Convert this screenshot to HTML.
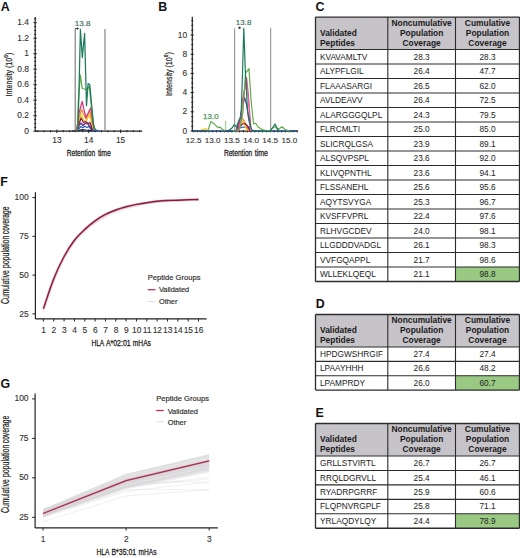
<!DOCTYPE html>
<html><head><meta charset="utf-8"><style>
html,body{margin:0;padding:0;background:#fff;overflow:hidden;}
svg{display:block;font-family:"Liberation Sans", sans-serif;}
</style></head><body>
<svg width="520" height="558" viewBox="0 0 520 558">
<rect x="0" y="0" width="520" height="558" fill="#fff"/>
<text x="0.70" y="10.60" font-size="12.4" text-anchor="start" font-weight="bold" fill="#111" >A</text>
<text x="158.30" y="10.90" font-size="12.4" text-anchor="start" font-weight="bold" fill="#111" >B</text>
<text x="315.60" y="10.90" font-size="12.4" text-anchor="start" font-weight="bold" fill="#111" >C</text>
<text x="315.80" y="307.60" font-size="12.4" text-anchor="start" font-weight="bold" fill="#111" >D</text>
<text x="315.60" y="416.70" font-size="12.4" text-anchor="start" font-weight="bold" fill="#111" >E</text>
<text x="0.30" y="185.50" font-size="12.4" text-anchor="start" font-weight="bold" fill="#111" >F</text>
<text x="0.50" y="387.50" font-size="12.4" text-anchor="start" font-weight="bold" fill="#111" >G</text>
<rect x="315.5" y="17.1" width="204.0" height="32.4" fill="#c6c4c9"/>
<rect x="455.5" y="267.0" width="64.0" height="14.5" fill="#99c982"/>
<line x1="315.50" y1="17.10" x2="519.50" y2="17.10" stroke="#2c2c2c" stroke-width="1.3" />
<line x1="315.50" y1="49.50" x2="519.50" y2="49.50" stroke="#2c2c2c" stroke-width="1.2" />
<line x1="315.50" y1="64.00" x2="519.50" y2="64.00" stroke="#2c2c2c" stroke-width="1.1" />
<line x1="315.50" y1="78.50" x2="519.50" y2="78.50" stroke="#2c2c2c" stroke-width="1.1" />
<line x1="315.50" y1="93.00" x2="519.50" y2="93.00" stroke="#2c2c2c" stroke-width="1.1" />
<line x1="315.50" y1="107.50" x2="519.50" y2="107.50" stroke="#2c2c2c" stroke-width="1.1" />
<line x1="315.50" y1="122.00" x2="519.50" y2="122.00" stroke="#2c2c2c" stroke-width="1.1" />
<line x1="315.50" y1="136.50" x2="519.50" y2="136.50" stroke="#2c2c2c" stroke-width="1.1" />
<line x1="315.50" y1="151.00" x2="519.50" y2="151.00" stroke="#2c2c2c" stroke-width="1.1" />
<line x1="315.50" y1="165.50" x2="519.50" y2="165.50" stroke="#2c2c2c" stroke-width="1.1" />
<line x1="315.50" y1="180.00" x2="519.50" y2="180.00" stroke="#2c2c2c" stroke-width="1.1" />
<line x1="315.50" y1="194.50" x2="519.50" y2="194.50" stroke="#2c2c2c" stroke-width="1.1" />
<line x1="315.50" y1="209.00" x2="519.50" y2="209.00" stroke="#2c2c2c" stroke-width="1.1" />
<line x1="315.50" y1="223.50" x2="519.50" y2="223.50" stroke="#2c2c2c" stroke-width="1.1" />
<line x1="315.50" y1="238.00" x2="519.50" y2="238.00" stroke="#2c2c2c" stroke-width="1.1" />
<line x1="315.50" y1="252.50" x2="519.50" y2="252.50" stroke="#2c2c2c" stroke-width="1.1" />
<line x1="315.50" y1="267.00" x2="519.50" y2="267.00" stroke="#2c2c2c" stroke-width="1.1" />
<line x1="315.50" y1="281.50" x2="519.50" y2="281.50" stroke="#2c2c2c" stroke-width="1.3" />
<line x1="315.50" y1="17.10" x2="315.50" y2="281.50" stroke="#2c2c2c" stroke-width="1.3" />
<line x1="387.80" y1="17.10" x2="387.80" y2="281.50" stroke="#2c2c2c" stroke-width="1.1" />
<line x1="455.50" y1="17.10" x2="455.50" y2="281.50" stroke="#2c2c2c" stroke-width="1.1" />
<line x1="519.50" y1="17.10" x2="519.50" y2="281.50" stroke="#2c2c2c" stroke-width="1.3" />
<text x="320.00" y="35.60" font-size="8.75" text-anchor="start" font-weight="bold" fill="#1a1a1a" textLength="36.88" lengthAdjust="spacingAndGlyphs">Validated</text>
<text x="320.00" y="45.70" font-size="8.75" text-anchor="start" font-weight="bold" fill="#1a1a1a" textLength="35.01" lengthAdjust="spacingAndGlyphs">Peptides</text>
<text x="421.65" y="25.70" font-size="8.75" text-anchor="middle" font-weight="bold" fill="#1a1a1a" textLength="60.21" lengthAdjust="spacingAndGlyphs">Noncumulative</text>
<text x="421.65" y="35.70" font-size="8.75" text-anchor="middle" font-weight="bold" fill="#1a1a1a" textLength="43.39" lengthAdjust="spacingAndGlyphs">Population</text>
<text x="421.65" y="45.70" font-size="8.75" text-anchor="middle" font-weight="bold" fill="#1a1a1a" textLength="38.28" lengthAdjust="spacingAndGlyphs">Coverage</text>
<text x="487.50" y="25.70" font-size="8.75" text-anchor="middle" font-weight="bold" fill="#1a1a1a" textLength="45.27" lengthAdjust="spacingAndGlyphs">Cumulative</text>
<text x="487.50" y="35.70" font-size="8.75" text-anchor="middle" font-weight="bold" fill="#1a1a1a" textLength="43.39" lengthAdjust="spacingAndGlyphs">Population</text>
<text x="487.50" y="45.70" font-size="8.75" text-anchor="middle" font-weight="bold" fill="#1a1a1a" textLength="38.28" lengthAdjust="spacingAndGlyphs">Coverage</text>
<text x="320.00" y="59.60" font-size="8.3" text-anchor="start" font-weight="normal" fill="#222" >KVAVAMLTV</text>
<text x="421.65" y="59.60" font-size="8.3" text-anchor="middle" font-weight="normal" fill="#222" >28.3</text>
<text x="487.50" y="59.60" font-size="8.3" text-anchor="middle" font-weight="normal" fill="#222" >28.3</text>
<text x="320.00" y="74.10" font-size="8.3" text-anchor="start" font-weight="normal" fill="#222" >ALYPFLGIL</text>
<text x="421.65" y="74.10" font-size="8.3" text-anchor="middle" font-weight="normal" fill="#222" >26.4</text>
<text x="487.50" y="74.10" font-size="8.3" text-anchor="middle" font-weight="normal" fill="#222" >47.7</text>
<text x="320.00" y="88.60" font-size="8.3" text-anchor="start" font-weight="normal" fill="#222" >FLAAASARGI</text>
<text x="421.65" y="88.60" font-size="8.3" text-anchor="middle" font-weight="normal" fill="#222" >26.5</text>
<text x="487.50" y="88.60" font-size="8.3" text-anchor="middle" font-weight="normal" fill="#222" >62.0</text>
<text x="320.00" y="103.10" font-size="8.3" text-anchor="start" font-weight="normal" fill="#222" >AVLDEAVV</text>
<text x="421.65" y="103.10" font-size="8.3" text-anchor="middle" font-weight="normal" fill="#222" >26.4</text>
<text x="487.50" y="103.10" font-size="8.3" text-anchor="middle" font-weight="normal" fill="#222" >72.5</text>
<text x="320.00" y="117.60" font-size="8.3" text-anchor="start" font-weight="normal" fill="#222" >ALARGGGQLPL</text>
<text x="421.65" y="117.60" font-size="8.3" text-anchor="middle" font-weight="normal" fill="#222" >24.3</text>
<text x="487.50" y="117.60" font-size="8.3" text-anchor="middle" font-weight="normal" fill="#222" >79.5</text>
<text x="320.00" y="132.10" font-size="8.3" text-anchor="start" font-weight="normal" fill="#222" >FLRCMLTI</text>
<text x="421.65" y="132.10" font-size="8.3" text-anchor="middle" font-weight="normal" fill="#222" >25.0</text>
<text x="487.50" y="132.10" font-size="8.3" text-anchor="middle" font-weight="normal" fill="#222" >85.0</text>
<text x="320.00" y="146.60" font-size="8.3" text-anchor="start" font-weight="normal" fill="#222" >SLICRQLGSA</text>
<text x="421.65" y="146.60" font-size="8.3" text-anchor="middle" font-weight="normal" fill="#222" >23.9</text>
<text x="487.50" y="146.60" font-size="8.3" text-anchor="middle" font-weight="normal" fill="#222" >89.1</text>
<text x="320.00" y="161.10" font-size="8.3" text-anchor="start" font-weight="normal" fill="#222" >ALSQVPSPL</text>
<text x="421.65" y="161.10" font-size="8.3" text-anchor="middle" font-weight="normal" fill="#222" >23.6</text>
<text x="487.50" y="161.10" font-size="8.3" text-anchor="middle" font-weight="normal" fill="#222" >92.0</text>
<text x="320.00" y="175.60" font-size="8.3" text-anchor="start" font-weight="normal" fill="#222" >KLIVQPNTHL</text>
<text x="421.65" y="175.60" font-size="8.3" text-anchor="middle" font-weight="normal" fill="#222" >23.6</text>
<text x="487.50" y="175.60" font-size="8.3" text-anchor="middle" font-weight="normal" fill="#222" >94.1</text>
<text x="320.00" y="190.10" font-size="8.3" text-anchor="start" font-weight="normal" fill="#222" >FLSSANEHL</text>
<text x="421.65" y="190.10" font-size="8.3" text-anchor="middle" font-weight="normal" fill="#222" >25.6</text>
<text x="487.50" y="190.10" font-size="8.3" text-anchor="middle" font-weight="normal" fill="#222" >95.6</text>
<text x="320.00" y="204.60" font-size="8.3" text-anchor="start" font-weight="normal" fill="#222" >AQYTSVYGA</text>
<text x="421.65" y="204.60" font-size="8.3" text-anchor="middle" font-weight="normal" fill="#222" >25.3</text>
<text x="487.50" y="204.60" font-size="8.3" text-anchor="middle" font-weight="normal" fill="#222" >96.7</text>
<text x="320.00" y="219.10" font-size="8.3" text-anchor="start" font-weight="normal" fill="#222" >KVSFFVPRL</text>
<text x="421.65" y="219.10" font-size="8.3" text-anchor="middle" font-weight="normal" fill="#222" >22.4</text>
<text x="487.50" y="219.10" font-size="8.3" text-anchor="middle" font-weight="normal" fill="#222" >97.6</text>
<text x="320.00" y="233.60" font-size="8.3" text-anchor="start" font-weight="normal" fill="#222" >RLHVGCDEV</text>
<text x="421.65" y="233.60" font-size="8.3" text-anchor="middle" font-weight="normal" fill="#222" >24.0</text>
<text x="487.50" y="233.60" font-size="8.3" text-anchor="middle" font-weight="normal" fill="#222" >98.1</text>
<text x="320.00" y="248.10" font-size="8.3" text-anchor="start" font-weight="normal" fill="#222" >LLGDDDVADGL</text>
<text x="421.65" y="248.10" font-size="8.3" text-anchor="middle" font-weight="normal" fill="#222" >26.1</text>
<text x="487.50" y="248.10" font-size="8.3" text-anchor="middle" font-weight="normal" fill="#222" >98.3</text>
<text x="320.00" y="262.60" font-size="8.3" text-anchor="start" font-weight="normal" fill="#222" >VVFGQAPPL</text>
<text x="421.65" y="262.60" font-size="8.3" text-anchor="middle" font-weight="normal" fill="#222" >21.7</text>
<text x="487.50" y="262.60" font-size="8.3" text-anchor="middle" font-weight="normal" fill="#222" >98.6</text>
<text x="320.00" y="277.10" font-size="8.3" text-anchor="start" font-weight="normal" fill="#222" >WLLEKLQEQL</text>
<text x="421.65" y="277.10" font-size="8.3" text-anchor="middle" font-weight="normal" fill="#222" >21.1</text>
<text x="487.50" y="277.10" font-size="8.3" text-anchor="middle" font-weight="normal" fill="#222" >98.8</text>
<rect x="315.5" y="314.5" width="204.0" height="32.5" fill="#c6c4c9"/>
<rect x="455.5" y="375.7" width="64.0" height="14.35" fill="#99c982"/>
<line x1="315.50" y1="314.50" x2="519.50" y2="314.50" stroke="#2c2c2c" stroke-width="1.3" />
<line x1="315.50" y1="347.00" x2="519.50" y2="347.00" stroke="#2c2c2c" stroke-width="1.2" />
<line x1="315.50" y1="361.35" x2="519.50" y2="361.35" stroke="#2c2c2c" stroke-width="1.1" />
<line x1="315.50" y1="375.70" x2="519.50" y2="375.70" stroke="#2c2c2c" stroke-width="1.1" />
<line x1="315.50" y1="390.05" x2="519.50" y2="390.05" stroke="#2c2c2c" stroke-width="1.3" />
<line x1="315.50" y1="314.50" x2="315.50" y2="390.05" stroke="#2c2c2c" stroke-width="1.3" />
<line x1="387.80" y1="314.50" x2="387.80" y2="390.05" stroke="#2c2c2c" stroke-width="1.1" />
<line x1="455.50" y1="314.50" x2="455.50" y2="390.05" stroke="#2c2c2c" stroke-width="1.1" />
<line x1="519.50" y1="314.50" x2="519.50" y2="390.05" stroke="#2c2c2c" stroke-width="1.3" />
<text x="320.00" y="333.00" font-size="8.75" text-anchor="start" font-weight="bold" fill="#1a1a1a" textLength="36.88" lengthAdjust="spacingAndGlyphs">Validated</text>
<text x="320.00" y="343.10" font-size="8.75" text-anchor="start" font-weight="bold" fill="#1a1a1a" textLength="35.01" lengthAdjust="spacingAndGlyphs">Peptides</text>
<text x="421.65" y="323.10" font-size="8.75" text-anchor="middle" font-weight="bold" fill="#1a1a1a" textLength="60.21" lengthAdjust="spacingAndGlyphs">Noncumulative</text>
<text x="421.65" y="333.10" font-size="8.75" text-anchor="middle" font-weight="bold" fill="#1a1a1a" textLength="43.39" lengthAdjust="spacingAndGlyphs">Population</text>
<text x="421.65" y="343.10" font-size="8.75" text-anchor="middle" font-weight="bold" fill="#1a1a1a" textLength="38.28" lengthAdjust="spacingAndGlyphs">Coverage</text>
<text x="487.50" y="323.10" font-size="8.75" text-anchor="middle" font-weight="bold" fill="#1a1a1a" textLength="45.27" lengthAdjust="spacingAndGlyphs">Cumulative</text>
<text x="487.50" y="333.10" font-size="8.75" text-anchor="middle" font-weight="bold" fill="#1a1a1a" textLength="43.39" lengthAdjust="spacingAndGlyphs">Population</text>
<text x="487.50" y="343.10" font-size="8.75" text-anchor="middle" font-weight="bold" fill="#1a1a1a" textLength="38.28" lengthAdjust="spacingAndGlyphs">Coverage</text>
<text x="320.00" y="357.10" font-size="8.3" text-anchor="start" font-weight="normal" fill="#222" >HPDGWSHRGIF</text>
<text x="421.65" y="357.10" font-size="8.3" text-anchor="middle" font-weight="normal" fill="#222" >27.4</text>
<text x="487.50" y="357.10" font-size="8.3" text-anchor="middle" font-weight="normal" fill="#222" >27.4</text>
<text x="320.00" y="371.45" font-size="8.3" text-anchor="start" font-weight="normal" fill="#222" >LPAAYHHH</text>
<text x="421.65" y="371.45" font-size="8.3" text-anchor="middle" font-weight="normal" fill="#222" >26.6</text>
<text x="487.50" y="371.45" font-size="8.3" text-anchor="middle" font-weight="normal" fill="#222" >48.2</text>
<text x="320.00" y="385.80" font-size="8.3" text-anchor="start" font-weight="normal" fill="#222" >LPAMPRDY</text>
<text x="421.65" y="385.80" font-size="8.3" text-anchor="middle" font-weight="normal" fill="#222" >26.0</text>
<text x="487.50" y="385.80" font-size="8.3" text-anchor="middle" font-weight="normal" fill="#222" >60.7</text>
<rect x="315.5" y="423.5" width="204.0" height="32.5" fill="#c6c4c9"/>
<rect x="455.5" y="513.8" width="64.0" height="14.45" fill="#99c982"/>
<line x1="315.50" y1="423.50" x2="519.50" y2="423.50" stroke="#2c2c2c" stroke-width="1.3" />
<line x1="315.50" y1="456.00" x2="519.50" y2="456.00" stroke="#2c2c2c" stroke-width="1.2" />
<line x1="315.50" y1="470.45" x2="519.50" y2="470.45" stroke="#2c2c2c" stroke-width="1.1" />
<line x1="315.50" y1="484.90" x2="519.50" y2="484.90" stroke="#2c2c2c" stroke-width="1.1" />
<line x1="315.50" y1="499.35" x2="519.50" y2="499.35" stroke="#2c2c2c" stroke-width="1.1" />
<line x1="315.50" y1="513.80" x2="519.50" y2="513.80" stroke="#2c2c2c" stroke-width="1.1" />
<line x1="315.50" y1="528.25" x2="519.50" y2="528.25" stroke="#2c2c2c" stroke-width="1.3" />
<line x1="315.50" y1="423.50" x2="315.50" y2="528.25" stroke="#2c2c2c" stroke-width="1.3" />
<line x1="387.80" y1="423.50" x2="387.80" y2="528.25" stroke="#2c2c2c" stroke-width="1.1" />
<line x1="455.50" y1="423.50" x2="455.50" y2="528.25" stroke="#2c2c2c" stroke-width="1.1" />
<line x1="519.50" y1="423.50" x2="519.50" y2="528.25" stroke="#2c2c2c" stroke-width="1.3" />
<text x="320.00" y="442.00" font-size="8.75" text-anchor="start" font-weight="bold" fill="#1a1a1a" textLength="36.88" lengthAdjust="spacingAndGlyphs">Validated</text>
<text x="320.00" y="452.10" font-size="8.75" text-anchor="start" font-weight="bold" fill="#1a1a1a" textLength="35.01" lengthAdjust="spacingAndGlyphs">Peptides</text>
<text x="421.65" y="432.10" font-size="8.75" text-anchor="middle" font-weight="bold" fill="#1a1a1a" textLength="60.21" lengthAdjust="spacingAndGlyphs">Noncumulative</text>
<text x="421.65" y="442.10" font-size="8.75" text-anchor="middle" font-weight="bold" fill="#1a1a1a" textLength="43.39" lengthAdjust="spacingAndGlyphs">Population</text>
<text x="421.65" y="452.10" font-size="8.75" text-anchor="middle" font-weight="bold" fill="#1a1a1a" textLength="38.28" lengthAdjust="spacingAndGlyphs">Coverage</text>
<text x="487.50" y="432.10" font-size="8.75" text-anchor="middle" font-weight="bold" fill="#1a1a1a" textLength="45.27" lengthAdjust="spacingAndGlyphs">Cumulative</text>
<text x="487.50" y="442.10" font-size="8.75" text-anchor="middle" font-weight="bold" fill="#1a1a1a" textLength="43.39" lengthAdjust="spacingAndGlyphs">Population</text>
<text x="487.50" y="452.10" font-size="8.75" text-anchor="middle" font-weight="bold" fill="#1a1a1a" textLength="38.28" lengthAdjust="spacingAndGlyphs">Coverage</text>
<text x="320.00" y="466.10" font-size="8.3" text-anchor="start" font-weight="normal" fill="#222" >GRLLSTVIRTL</text>
<text x="421.65" y="466.10" font-size="8.3" text-anchor="middle" font-weight="normal" fill="#222" >26.7</text>
<text x="487.50" y="466.10" font-size="8.3" text-anchor="middle" font-weight="normal" fill="#222" >26.7</text>
<text x="320.00" y="480.55" font-size="8.3" text-anchor="start" font-weight="normal" fill="#222" >RRQLDGRVLL</text>
<text x="421.65" y="480.55" font-size="8.3" text-anchor="middle" font-weight="normal" fill="#222" >25.4</text>
<text x="487.50" y="480.55" font-size="8.3" text-anchor="middle" font-weight="normal" fill="#222" >46.1</text>
<text x="320.00" y="495.00" font-size="8.3" text-anchor="start" font-weight="normal" fill="#222" >RYADRPGRRF</text>
<text x="421.65" y="495.00" font-size="8.3" text-anchor="middle" font-weight="normal" fill="#222" >25.9</text>
<text x="487.50" y="495.00" font-size="8.3" text-anchor="middle" font-weight="normal" fill="#222" >60.6</text>
<text x="320.00" y="509.45" font-size="8.3" text-anchor="start" font-weight="normal" fill="#222" >FLQPNVRGPLF</text>
<text x="421.65" y="509.45" font-size="8.3" text-anchor="middle" font-weight="normal" fill="#222" >25.8</text>
<text x="487.50" y="509.45" font-size="8.3" text-anchor="middle" font-weight="normal" fill="#222" >71.1</text>
<text x="320.00" y="523.90" font-size="8.3" text-anchor="start" font-weight="normal" fill="#222" >YRLAQDYLQY</text>
<text x="421.65" y="523.90" font-size="8.3" text-anchor="middle" font-weight="normal" fill="#222" >24.4</text>
<text x="487.50" y="523.90" font-size="8.3" text-anchor="middle" font-weight="normal" fill="#222" >78.9</text>
<line x1="35.20" y1="17.00" x2="35.20" y2="131.20" stroke="#222" stroke-width="1.2" />
<line x1="35.20" y1="131.20" x2="142.20" y2="131.20" stroke="#222" stroke-width="1.2" />
<line x1="33.40" y1="131.20" x2="36.80" y2="131.20" stroke="#222" stroke-width="1.0" />
<text x="28.90" y="133.60" font-size="8.4" text-anchor="end" font-weight="normal" fill="#333" stroke="#333" stroke-width="0.12">0</text>
<line x1="34.20" y1="127.32" x2="36.20" y2="127.32" stroke="#222" stroke-width="1.0" />
<line x1="34.20" y1="123.45" x2="36.20" y2="123.45" stroke="#222" stroke-width="1.0" />
<line x1="34.20" y1="119.57" x2="36.20" y2="119.57" stroke="#222" stroke-width="1.0" />
<line x1="33.40" y1="115.70" x2="36.80" y2="115.70" stroke="#222" stroke-width="1.0" />
<text x="28.90" y="118.10" font-size="8.4" text-anchor="end" font-weight="normal" fill="#333" stroke="#333" stroke-width="0.12">0.2</text>
<line x1="34.20" y1="111.82" x2="36.20" y2="111.82" stroke="#222" stroke-width="1.0" />
<line x1="34.20" y1="107.95" x2="36.20" y2="107.95" stroke="#222" stroke-width="1.0" />
<line x1="34.20" y1="104.07" x2="36.20" y2="104.07" stroke="#222" stroke-width="1.0" />
<line x1="33.40" y1="100.20" x2="36.80" y2="100.20" stroke="#222" stroke-width="1.0" />
<text x="28.90" y="102.60" font-size="8.4" text-anchor="end" font-weight="normal" fill="#333" stroke="#333" stroke-width="0.12">0.4</text>
<line x1="34.20" y1="96.32" x2="36.20" y2="96.32" stroke="#222" stroke-width="1.0" />
<line x1="34.20" y1="92.45" x2="36.20" y2="92.45" stroke="#222" stroke-width="1.0" />
<line x1="34.20" y1="88.57" x2="36.20" y2="88.57" stroke="#222" stroke-width="1.0" />
<line x1="33.40" y1="84.70" x2="36.80" y2="84.70" stroke="#222" stroke-width="1.0" />
<text x="28.90" y="87.10" font-size="8.4" text-anchor="end" font-weight="normal" fill="#333" stroke="#333" stroke-width="0.12">0.6</text>
<line x1="34.20" y1="80.82" x2="36.20" y2="80.82" stroke="#222" stroke-width="1.0" />
<line x1="34.20" y1="76.95" x2="36.20" y2="76.95" stroke="#222" stroke-width="1.0" />
<line x1="34.20" y1="73.07" x2="36.20" y2="73.07" stroke="#222" stroke-width="1.0" />
<line x1="33.40" y1="69.20" x2="36.80" y2="69.20" stroke="#222" stroke-width="1.0" />
<text x="28.90" y="71.60" font-size="8.4" text-anchor="end" font-weight="normal" fill="#333" stroke="#333" stroke-width="0.12">0.8</text>
<line x1="34.20" y1="65.32" x2="36.20" y2="65.32" stroke="#222" stroke-width="1.0" />
<line x1="34.20" y1="61.45" x2="36.20" y2="61.45" stroke="#222" stroke-width="1.0" />
<line x1="34.20" y1="57.57" x2="36.20" y2="57.57" stroke="#222" stroke-width="1.0" />
<line x1="33.40" y1="53.70" x2="36.80" y2="53.70" stroke="#222" stroke-width="1.0" />
<text x="28.90" y="56.10" font-size="8.4" text-anchor="end" font-weight="normal" fill="#333" stroke="#333" stroke-width="0.12">1</text>
<line x1="34.20" y1="49.82" x2="36.20" y2="49.82" stroke="#222" stroke-width="1.0" />
<line x1="34.20" y1="45.95" x2="36.20" y2="45.95" stroke="#222" stroke-width="1.0" />
<line x1="34.20" y1="42.07" x2="36.20" y2="42.07" stroke="#222" stroke-width="1.0" />
<line x1="33.40" y1="38.20" x2="36.80" y2="38.20" stroke="#222" stroke-width="1.0" />
<text x="28.90" y="40.60" font-size="8.4" text-anchor="end" font-weight="normal" fill="#333" stroke="#333" stroke-width="0.12">1.2</text>
<line x1="34.20" y1="34.32" x2="36.20" y2="34.32" stroke="#222" stroke-width="1.0" />
<line x1="34.20" y1="30.45" x2="36.20" y2="30.45" stroke="#222" stroke-width="1.0" />
<line x1="34.20" y1="26.57" x2="36.20" y2="26.57" stroke="#222" stroke-width="1.0" />
<line x1="33.40" y1="22.70" x2="36.80" y2="22.70" stroke="#222" stroke-width="1.0" />
<text x="28.90" y="25.10" font-size="8.4" text-anchor="end" font-weight="normal" fill="#333" stroke="#333" stroke-width="0.12">1.4</text>
<line x1="34.20" y1="18.82" x2="36.20" y2="18.82" stroke="#222" stroke-width="1.0" />
<line x1="37.79" y1="130.20" x2="37.79" y2="132.20" stroke="#222" stroke-width="1.0" />
<line x1="44.16" y1="130.20" x2="44.16" y2="132.20" stroke="#222" stroke-width="1.0" />
<line x1="50.53" y1="130.20" x2="50.53" y2="132.20" stroke="#222" stroke-width="1.0" />
<line x1="56.90" y1="129.60" x2="56.90" y2="133.00" stroke="#222" stroke-width="1.0" />
<text x="56.90" y="142.60" font-size="8.4" text-anchor="middle" font-weight="normal" fill="#333" stroke="#333" stroke-width="0.12">13</text>
<line x1="63.27" y1="130.20" x2="63.27" y2="132.20" stroke="#222" stroke-width="1.0" />
<line x1="69.64" y1="130.20" x2="69.64" y2="132.20" stroke="#222" stroke-width="1.0" />
<line x1="76.01" y1="130.20" x2="76.01" y2="132.20" stroke="#222" stroke-width="1.0" />
<line x1="82.38" y1="130.20" x2="82.38" y2="132.20" stroke="#222" stroke-width="1.0" />
<line x1="88.75" y1="129.60" x2="88.75" y2="133.00" stroke="#222" stroke-width="1.0" />
<text x="88.75" y="142.60" font-size="8.4" text-anchor="middle" font-weight="normal" fill="#333" stroke="#333" stroke-width="0.12">14</text>
<line x1="95.12" y1="130.20" x2="95.12" y2="132.20" stroke="#222" stroke-width="1.0" />
<line x1="101.49" y1="130.20" x2="101.49" y2="132.20" stroke="#222" stroke-width="1.0" />
<line x1="107.86" y1="130.20" x2="107.86" y2="132.20" stroke="#222" stroke-width="1.0" />
<line x1="114.23" y1="130.20" x2="114.23" y2="132.20" stroke="#222" stroke-width="1.0" />
<line x1="120.60" y1="129.60" x2="120.60" y2="133.00" stroke="#222" stroke-width="1.0" />
<text x="120.60" y="142.60" font-size="8.4" text-anchor="middle" font-weight="normal" fill="#333" stroke="#333" stroke-width="0.12">15</text>
<line x1="126.97" y1="130.20" x2="126.97" y2="132.20" stroke="#222" stroke-width="1.0" />
<line x1="133.34" y1="130.20" x2="133.34" y2="132.20" stroke="#222" stroke-width="1.0" />
<line x1="139.71" y1="130.20" x2="139.71" y2="132.20" stroke="#222" stroke-width="1.0" />
<text x="66.70" y="156.40" font-size="9.9" fill="#222" stroke="#222" stroke-width="0.3" textLength="28.60" lengthAdjust="spacingAndGlyphs">Retention</text>
<text x="97.90" y="156.40" font-size="9.9" fill="#222" stroke="#222" stroke-width="0.3" textLength="12.90" lengthAdjust="spacingAndGlyphs">time</text>
<g transform="translate(11.60,74.55) rotate(-90) scale(0.7885,1)"><text x="-27.71" y="0" font-size="9.0" fill="#222" stroke="#222" stroke-width="0.2">Intensity (10<tspan font-size="6.12" dy="-3.6">6</tspan><tspan dy="3.6">)</tspan></text></g>
<line x1="75.20" y1="28.60" x2="75.20" y2="131.20" stroke="#777" stroke-width="1.1" />
<line x1="105.00" y1="29.00" x2="105.00" y2="131.20" stroke="#7a7a7a" stroke-width="1.1" />
<line x1="75.20" y1="28.60" x2="77.80" y2="28.60" stroke="#333" stroke-width="1.0" />
<path d="M77.2,27.3 L79,28.6 L77.2,29.9 Z" fill="#222"/>
<text x="82.60" y="26.20" font-size="8.0" text-anchor="middle" font-weight="normal" fill="#3a6b58" stroke="#3a6b58" stroke-width="0.15">13.8</text>
<polyline points="72.00,131.00 78.00,130.60 82.00,129.60 86.00,130.00 90.00,130.30 96.00,131.00" fill="none" stroke="#1e1e3c" stroke-width="1.25" stroke-linejoin="round" />
<polyline points="76.00,131.00 79.00,128.50 81.00,126.50 83.00,127.80 85.00,126.20 87.00,127.50 89.00,126.50 91.00,129.00 94.00,131.00" fill="none" stroke="#2a5fb0" stroke-width="1.25" stroke-linejoin="round" />
<polyline points="76.00,131.00 79.00,126.00 81.00,123.00 83.00,125.50 85.00,123.50 88.00,124.00 90.00,126.50 93.00,131.00" fill="none" stroke="#5b2b8a" stroke-width="1.25" stroke-linejoin="round" />
<polyline points="76.50,131.00 79.00,122.00 81.30,114.50 83.50,120.00 86.00,122.00 89.50,114.50 92.00,124.00 94.00,131.00" fill="none" stroke="#f2d024" stroke-width="1.25" stroke-linejoin="round" />
<polyline points="76.50,131.00 79.00,124.00 81.10,118.00 83.50,122.50 85.50,121.50 88.00,123.50 90.00,122.50 93.00,131.00" fill="none" stroke="#8c1538" stroke-width="1.25" stroke-linejoin="round" />
<polyline points="76.50,131.00 79.00,118.00 81.50,109.50 83.50,114.00 86.00,119.00 89.80,110.50 92.00,121.00 94.50,131.00" fill="none" stroke="#f08a2c" stroke-width="1.25" stroke-linejoin="round" />
<polyline points="76.50,131.00 79.00,113.00 82.20,101.40 84.00,110.00 86.00,117.50 90.80,107.80 93.00,123.00 95.00,131.00" fill="none" stroke="#d8357a" stroke-width="1.25" stroke-linejoin="round" />
<polyline points="77.30,131.00 78.40,100.00 80.40,74.80 82.20,88.50 86.50,89.50 89.20,86.50 91.90,110.50 94.50,131.00" fill="none" stroke="#62ad4a" stroke-width="1.25" stroke-linejoin="round" />
<polyline points="77.80,131.00 78.90,95.00 80.40,29.40 82.30,57.50 84.60,33.40 86.50,105.70 88.10,83.60 89.80,84.70 93.50,125.60 96.00,131.00" fill="none" stroke="#1d7a5c" stroke-width="1.25" stroke-linejoin="round" />
<polyline points="92.00,131.00 96.00,130.20 100.00,131.00" fill="none" stroke="#2a5fb0" stroke-width="1.25" stroke-linejoin="round" />
<line x1="192.30" y1="16.80" x2="192.30" y2="131.20" stroke="#222" stroke-width="1.2" />
<line x1="192.30" y1="131.20" x2="297.80" y2="131.20" stroke="#222" stroke-width="1.2" />
<line x1="190.50" y1="131.00" x2="193.90" y2="131.00" stroke="#222" stroke-width="1.0" />
<text x="187.20" y="133.60" font-size="8.4" text-anchor="end" font-weight="normal" fill="#333" stroke="#333" stroke-width="0.12">0</text>
<line x1="191.30" y1="126.20" x2="193.30" y2="126.20" stroke="#222" stroke-width="1.0" />
<line x1="191.30" y1="121.40" x2="193.30" y2="121.40" stroke="#222" stroke-width="1.0" />
<line x1="191.30" y1="116.60" x2="193.30" y2="116.60" stroke="#222" stroke-width="1.0" />
<line x1="190.50" y1="111.80" x2="193.90" y2="111.80" stroke="#222" stroke-width="1.0" />
<text x="187.20" y="114.40" font-size="8.4" text-anchor="end" font-weight="normal" fill="#333" stroke="#333" stroke-width="0.12">2</text>
<line x1="191.30" y1="107.00" x2="193.30" y2="107.00" stroke="#222" stroke-width="1.0" />
<line x1="191.30" y1="102.20" x2="193.30" y2="102.20" stroke="#222" stroke-width="1.0" />
<line x1="191.30" y1="97.40" x2="193.30" y2="97.40" stroke="#222" stroke-width="1.0" />
<line x1="190.50" y1="92.60" x2="193.90" y2="92.60" stroke="#222" stroke-width="1.0" />
<text x="187.20" y="95.20" font-size="8.4" text-anchor="end" font-weight="normal" fill="#333" stroke="#333" stroke-width="0.12">4</text>
<line x1="191.30" y1="87.80" x2="193.30" y2="87.80" stroke="#222" stroke-width="1.0" />
<line x1="191.30" y1="83.00" x2="193.30" y2="83.00" stroke="#222" stroke-width="1.0" />
<line x1="191.30" y1="78.20" x2="193.30" y2="78.20" stroke="#222" stroke-width="1.0" />
<line x1="190.50" y1="73.40" x2="193.90" y2="73.40" stroke="#222" stroke-width="1.0" />
<text x="187.20" y="76.00" font-size="8.4" text-anchor="end" font-weight="normal" fill="#333" stroke="#333" stroke-width="0.12">6</text>
<line x1="191.30" y1="68.60" x2="193.30" y2="68.60" stroke="#222" stroke-width="1.0" />
<line x1="191.30" y1="63.80" x2="193.30" y2="63.80" stroke="#222" stroke-width="1.0" />
<line x1="191.30" y1="59.00" x2="193.30" y2="59.00" stroke="#222" stroke-width="1.0" />
<line x1="190.50" y1="54.20" x2="193.90" y2="54.20" stroke="#222" stroke-width="1.0" />
<text x="187.20" y="56.80" font-size="8.4" text-anchor="end" font-weight="normal" fill="#333" stroke="#333" stroke-width="0.12">8</text>
<line x1="191.30" y1="49.40" x2="193.30" y2="49.40" stroke="#222" stroke-width="1.0" />
<line x1="191.30" y1="44.60" x2="193.30" y2="44.60" stroke="#222" stroke-width="1.0" />
<line x1="191.30" y1="39.80" x2="193.30" y2="39.80" stroke="#222" stroke-width="1.0" />
<line x1="190.50" y1="35.00" x2="193.90" y2="35.00" stroke="#222" stroke-width="1.0" />
<text x="187.20" y="37.60" font-size="8.4" text-anchor="end" font-weight="normal" fill="#333" stroke="#333" stroke-width="0.12">10</text>
<line x1="191.30" y1="30.20" x2="193.30" y2="30.20" stroke="#222" stroke-width="1.0" />
<line x1="191.30" y1="25.40" x2="193.30" y2="25.40" stroke="#222" stroke-width="1.0" />
<line x1="191.30" y1="20.60" x2="193.30" y2="20.60" stroke="#222" stroke-width="1.0" />
<line x1="193.60" y1="130.00" x2="193.60" y2="132.40" stroke="#222" stroke-width="1.0" />
<text x="193.60" y="142.90" font-size="8.1" text-anchor="middle" font-weight="normal" fill="#333" stroke="#333" stroke-width="0.12">12.5</text>
<line x1="197.43" y1="130.00" x2="197.43" y2="132.40" stroke="#222" stroke-width="1.0" />
<line x1="201.26" y1="130.00" x2="201.26" y2="132.40" stroke="#222" stroke-width="1.0" />
<line x1="205.09" y1="130.00" x2="205.09" y2="132.40" stroke="#222" stroke-width="1.0" />
<line x1="208.92" y1="130.00" x2="208.92" y2="132.40" stroke="#222" stroke-width="1.0" />
<line x1="212.75" y1="130.00" x2="212.75" y2="132.40" stroke="#222" stroke-width="1.0" />
<text x="212.75" y="142.90" font-size="8.1" text-anchor="middle" font-weight="normal" fill="#333" stroke="#333" stroke-width="0.12">13.0</text>
<line x1="216.58" y1="130.00" x2="216.58" y2="132.40" stroke="#222" stroke-width="1.0" />
<line x1="220.41" y1="130.00" x2="220.41" y2="132.40" stroke="#222" stroke-width="1.0" />
<line x1="224.24" y1="130.00" x2="224.24" y2="132.40" stroke="#222" stroke-width="1.0" />
<line x1="228.07" y1="130.00" x2="228.07" y2="132.40" stroke="#222" stroke-width="1.0" />
<line x1="231.90" y1="130.00" x2="231.90" y2="132.40" stroke="#222" stroke-width="1.0" />
<text x="231.90" y="142.90" font-size="8.1" text-anchor="middle" font-weight="normal" fill="#333" stroke="#333" stroke-width="0.12">13.5</text>
<line x1="235.73" y1="130.00" x2="235.73" y2="132.40" stroke="#222" stroke-width="1.0" />
<line x1="239.56" y1="130.00" x2="239.56" y2="132.40" stroke="#222" stroke-width="1.0" />
<line x1="243.39" y1="130.00" x2="243.39" y2="132.40" stroke="#222" stroke-width="1.0" />
<line x1="247.22" y1="130.00" x2="247.22" y2="132.40" stroke="#222" stroke-width="1.0" />
<line x1="251.05" y1="130.00" x2="251.05" y2="132.40" stroke="#222" stroke-width="1.0" />
<text x="251.05" y="142.90" font-size="8.1" text-anchor="middle" font-weight="normal" fill="#333" stroke="#333" stroke-width="0.12">14.0</text>
<line x1="254.88" y1="130.00" x2="254.88" y2="132.40" stroke="#222" stroke-width="1.0" />
<line x1="258.71" y1="130.00" x2="258.71" y2="132.40" stroke="#222" stroke-width="1.0" />
<line x1="262.54" y1="130.00" x2="262.54" y2="132.40" stroke="#222" stroke-width="1.0" />
<line x1="266.37" y1="130.00" x2="266.37" y2="132.40" stroke="#222" stroke-width="1.0" />
<line x1="270.20" y1="130.00" x2="270.20" y2="132.40" stroke="#222" stroke-width="1.0" />
<text x="270.20" y="142.90" font-size="8.1" text-anchor="middle" font-weight="normal" fill="#333" stroke="#333" stroke-width="0.12">14.5</text>
<line x1="274.03" y1="130.00" x2="274.03" y2="132.40" stroke="#222" stroke-width="1.0" />
<line x1="277.86" y1="130.00" x2="277.86" y2="132.40" stroke="#222" stroke-width="1.0" />
<line x1="281.69" y1="130.00" x2="281.69" y2="132.40" stroke="#222" stroke-width="1.0" />
<line x1="285.52" y1="130.00" x2="285.52" y2="132.40" stroke="#222" stroke-width="1.0" />
<line x1="289.35" y1="130.00" x2="289.35" y2="132.40" stroke="#222" stroke-width="1.0" />
<text x="289.35" y="142.90" font-size="8.1" text-anchor="middle" font-weight="normal" fill="#333" stroke="#333" stroke-width="0.12">15.0</text>
<line x1="293.18" y1="130.00" x2="293.18" y2="132.40" stroke="#222" stroke-width="1.0" />
<line x1="297.01" y1="130.00" x2="297.01" y2="132.40" stroke="#222" stroke-width="1.0" />
<text x="223.90" y="156.40" font-size="9.9" fill="#222" stroke="#222" stroke-width="0.3" textLength="28.40" lengthAdjust="spacingAndGlyphs">Retention</text>
<text x="254.70" y="156.40" font-size="9.9" fill="#222" stroke="#222" stroke-width="0.3" textLength="13.30" lengthAdjust="spacingAndGlyphs">time</text>
<g transform="translate(171.90,74.05) rotate(-90) scale(0.7885,1)"><text x="-27.71" y="0" font-size="9.0" fill="#222" stroke="#222" stroke-width="0.2">Intensity (10<tspan font-size="6.12" dy="-3.6">6</tspan><tspan dy="3.6">)</tspan></text></g>
<line x1="234.70" y1="28.30" x2="234.70" y2="131.20" stroke="#707070" stroke-width="0.85" />
<line x1="270.70" y1="27.80" x2="270.70" y2="131.20" stroke="#707070" stroke-width="0.85" />
<path d="M238.6,26.3 L241.4,27.9 L238.6,29.2 Z" fill="#222"/>
<text x="243.60" y="24.90" font-size="8.0" text-anchor="middle" font-weight="normal" fill="#3a6b58" stroke="#3a6b58" stroke-width="0.15">13.8</text>
<text x="210.90" y="118.80" font-size="8.0" text-anchor="middle" font-weight="normal" fill="#4f9a5a" stroke="#4f9a5a" stroke-width="0.25">13.0</text>
<line x1="225.7" y1="120.7" x2="225.7" y2="131" stroke="#8cc87a" stroke-width="1"/>
<polyline points="199.00,131.00 203.00,129.30 206.00,128.60 208.20,131.00" fill="none" stroke="#f2d024" stroke-width="1.2" stroke-linejoin="round" />
<polyline points="193.00,131.00 236.00,131.00 240.00,128.00 243.00,127.00 246.50,127.50 248.80,126.70 250.50,129.50 252.00,131.00 297.00,131.00" fill="none" stroke="#2a5fb0" stroke-width="1.2" stroke-linejoin="round" />
<polyline points="237.00,131.00 239.50,124.00 241.50,117.50 242.50,118.40 244.50,122.00 246.50,127.00 248.50,131.00" fill="none" stroke="#f08a2c" stroke-width="1.2" stroke-linejoin="round" />
<polyline points="238.00,131.00 240.50,125.00 242.50,121.00 244.50,124.00 247.00,131.00" fill="none" stroke="#f5c030" stroke-width="1.2" stroke-linejoin="round" />
<polyline points="236.00,131.00 239.50,127.00 242.50,124.00 245.00,123.50 247.50,126.00 250.00,131.00" fill="none" stroke="#8c1538" stroke-width="1.2" stroke-linejoin="round" />
<polyline points="236.00,131.00 239.50,121.00 242.00,108.00 244.60,97.60 246.50,104.00 248.50,118.00 251.00,131.00" fill="none" stroke="#5b2b8a" stroke-width="1.2" stroke-linejoin="round" />
<polyline points="238.00,131.00 240.50,118.00 243.00,98.00 246.50,77.50 248.30,95.00 249.80,115.00 251.20,131.00" fill="none" stroke="#d8357a" stroke-width="1.2" stroke-linejoin="round" />
<polyline points="239.00,131.00 241.50,115.00 244.50,90.00 246.60,84.00 248.50,100.00 249.80,120.00 250.80,131.00" fill="none" stroke="#e86aae" stroke-width="1.2" stroke-linejoin="round" />
<polyline points="193.00,131.00 207.80,131.00 210.90,121.60 214.20,123.90 217.90,127.60 220.20,127.20 222.50,129.50 224.80,130.50 236.00,131.00 240.00,128.00 243.00,112.00 245.50,73.00 249.00,68.70 251.00,100.00 253.60,124.00 255.70,123.20 258.00,127.00 262.00,129.50 266.00,130.50 270.00,130.50 273.00,128.00 275.00,126.50 278.00,129.50 282.00,126.70 285.00,129.50 290.00,131.00 297.00,131.00" fill="none" stroke="#62ad4a" stroke-width="1.2" stroke-linejoin="round" />
<polyline points="228.00,131.00 232.00,128.00 234.20,124.60 236.50,127.00 239.10,119.80 241.00,118.00 242.30,80.00 243.80,28.30 245.30,70.00 247.50,110.00 250.90,128.00 253.00,131.00 270.00,131.00 273.00,127.00 275.10,124.00 277.50,129.00 279.50,131.00" fill="none" stroke="#1d7a5c" stroke-width="1.2" stroke-linejoin="round" />
<line x1="192.80" y1="131.00" x2="207.50" y2="131.00" stroke="#23348a" stroke-width="1.1" />
<line x1="225.50" y1="131.00" x2="233.00" y2="131.00" stroke="#23348a" stroke-width="1.1" />
<line x1="290.00" y1="131.00" x2="297.50" y2="131.00" stroke="#23348a" stroke-width="1.1" />
<line x1="35.40" y1="192.30" x2="35.40" y2="318.90" stroke="#222" stroke-width="1.2" />
<line x1="35.40" y1="318.90" x2="206.70" y2="318.90" stroke="#222" stroke-width="1.2" />
<line x1="32.40" y1="313.90" x2="35.40" y2="313.90" stroke="#222" stroke-width="1.0" />
<text x="28.80" y="316.50" font-size="8.5" text-anchor="end" font-weight="normal" fill="#333" stroke="#333" stroke-width="0.12">25</text>
<line x1="32.40" y1="275.13" x2="35.40" y2="275.13" stroke="#222" stroke-width="1.0" />
<text x="28.80" y="277.73" font-size="8.5" text-anchor="end" font-weight="normal" fill="#333" stroke="#333" stroke-width="0.12">50</text>
<line x1="32.40" y1="236.36" x2="35.40" y2="236.36" stroke="#222" stroke-width="1.0" />
<text x="28.80" y="238.96" font-size="8.5" text-anchor="end" font-weight="normal" fill="#333" stroke="#333" stroke-width="0.12">75</text>
<line x1="32.40" y1="197.59" x2="35.40" y2="197.59" stroke="#222" stroke-width="1.0" />
<text x="28.80" y="200.19" font-size="8.5" text-anchor="end" font-weight="normal" fill="#333" stroke="#333" stroke-width="0.12">100</text>
<line x1="43.40" y1="318.90" x2="43.40" y2="321.50" stroke="#222" stroke-width="1.0" />
<text x="43.60" y="332.60" font-size="8.4" text-anchor="middle" font-weight="normal" fill="#333" stroke="#333" stroke-width="0.12">1</text>
<line x1="53.74" y1="318.90" x2="53.74" y2="321.50" stroke="#222" stroke-width="1.0" />
<text x="53.94" y="332.60" font-size="8.4" text-anchor="middle" font-weight="normal" fill="#333" stroke="#333" stroke-width="0.12">2</text>
<line x1="64.08" y1="318.90" x2="64.08" y2="321.50" stroke="#222" stroke-width="1.0" />
<text x="64.28" y="332.60" font-size="8.4" text-anchor="middle" font-weight="normal" fill="#333" stroke="#333" stroke-width="0.12">3</text>
<line x1="74.42" y1="318.90" x2="74.42" y2="321.50" stroke="#222" stroke-width="1.0" />
<text x="74.62" y="332.60" font-size="8.4" text-anchor="middle" font-weight="normal" fill="#333" stroke="#333" stroke-width="0.12">4</text>
<line x1="84.76" y1="318.90" x2="84.76" y2="321.50" stroke="#222" stroke-width="1.0" />
<text x="84.96" y="332.60" font-size="8.4" text-anchor="middle" font-weight="normal" fill="#333" stroke="#333" stroke-width="0.12">5</text>
<line x1="95.10" y1="318.90" x2="95.10" y2="321.50" stroke="#222" stroke-width="1.0" />
<text x="95.30" y="332.60" font-size="8.4" text-anchor="middle" font-weight="normal" fill="#333" stroke="#333" stroke-width="0.12">6</text>
<line x1="105.44" y1="318.90" x2="105.44" y2="321.50" stroke="#222" stroke-width="1.0" />
<text x="105.64" y="332.60" font-size="8.4" text-anchor="middle" font-weight="normal" fill="#333" stroke="#333" stroke-width="0.12">7</text>
<line x1="115.78" y1="318.90" x2="115.78" y2="321.50" stroke="#222" stroke-width="1.0" />
<text x="115.98" y="332.60" font-size="8.4" text-anchor="middle" font-weight="normal" fill="#333" stroke="#333" stroke-width="0.12">8</text>
<line x1="126.12" y1="318.90" x2="126.12" y2="321.50" stroke="#222" stroke-width="1.0" />
<text x="126.32" y="332.60" font-size="8.4" text-anchor="middle" font-weight="normal" fill="#333" stroke="#333" stroke-width="0.12">9</text>
<line x1="136.46" y1="318.90" x2="136.46" y2="321.50" stroke="#222" stroke-width="1.0" />
<text x="136.66" y="332.60" font-size="8.4" text-anchor="middle" font-weight="normal" fill="#333" stroke="#333" stroke-width="0.12">10</text>
<line x1="146.80" y1="318.90" x2="146.80" y2="321.50" stroke="#222" stroke-width="1.0" />
<text x="147.00" y="332.60" font-size="8.4" text-anchor="middle" font-weight="normal" fill="#333" stroke="#333" stroke-width="0.12">11</text>
<line x1="157.14" y1="318.90" x2="157.14" y2="321.50" stroke="#222" stroke-width="1.0" />
<text x="157.34" y="332.60" font-size="8.4" text-anchor="middle" font-weight="normal" fill="#333" stroke="#333" stroke-width="0.12">12</text>
<line x1="167.48" y1="318.90" x2="167.48" y2="321.50" stroke="#222" stroke-width="1.0" />
<text x="167.68" y="332.60" font-size="8.4" text-anchor="middle" font-weight="normal" fill="#333" stroke="#333" stroke-width="0.12">13</text>
<line x1="177.82" y1="318.90" x2="177.82" y2="321.50" stroke="#222" stroke-width="1.0" />
<text x="178.02" y="332.60" font-size="8.4" text-anchor="middle" font-weight="normal" fill="#333" stroke="#333" stroke-width="0.12">14</text>
<line x1="188.16" y1="318.90" x2="188.16" y2="321.50" stroke="#222" stroke-width="1.0" />
<text x="188.36" y="332.60" font-size="8.4" text-anchor="middle" font-weight="normal" fill="#333" stroke="#333" stroke-width="0.12">15</text>
<line x1="198.50" y1="318.90" x2="198.50" y2="321.50" stroke="#222" stroke-width="1.0" />
<text x="198.70" y="332.60" font-size="8.4" text-anchor="middle" font-weight="normal" fill="#333" stroke="#333" stroke-width="0.12">16</text>
<text x="91.40" y="346.40" font-size="9.9" fill="#222" stroke="#222" stroke-width="0.3" textLength="12.80" lengthAdjust="spacingAndGlyphs">HLA</text>
<text x="105.90" y="346.40" font-size="9.9" fill="#222" stroke="#222" stroke-width="0.3" textLength="24.80" lengthAdjust="spacingAndGlyphs">A*02:01</text>
<text x="132.80" y="346.40" font-size="9.9" fill="#222" stroke="#222" stroke-width="0.3" textLength="18.10" lengthAdjust="spacingAndGlyphs">mHAs</text>
<g transform="translate(8.90,0) rotate(-90)">
<text x="-304.00" y="0" font-size="10.0" fill="#222" stroke="#222" stroke-width="0.22" textLength="33.90" lengthAdjust="spacingAndGlyphs">Cumulative</text>
<text x="-268.30" y="0" font-size="10.0" fill="#222" stroke="#222" stroke-width="0.22" textLength="32.70" lengthAdjust="spacingAndGlyphs">population</text>
<text x="-234.20" y="0" font-size="10.0" fill="#222" stroke="#222" stroke-width="0.22" textLength="27.60" lengthAdjust="spacingAndGlyphs">coverage</text>
</g>
<path d="M43.40,311.55 C45.12,306.29 50.29,288.82 53.74,279.97 C57.19,271.11 60.63,264.91 64.08,258.44 C67.53,251.96 70.97,245.84 74.42,241.13 C77.87,236.41 81.31,233.08 84.76,230.13 C88.21,227.18 91.65,225.61 95.10,223.43 C98.55,221.25 101.99,219.28 105.44,217.04 C108.89,214.80 112.33,211.45 115.78,209.98 C119.23,208.52 122.67,208.92 126.12,208.22 C129.57,207.53 133.01,206.78 136.46,205.81 C139.91,204.83 143.35,203.01 146.80,202.37 C150.25,201.73 153.69,202.28 157.14,201.97 C160.59,201.66 164.03,200.75 167.48,200.53 C170.93,200.32 174.37,200.78 177.82,200.69 C181.27,200.59 184.71,200.08 188.16,199.96 C191.61,199.84 196.78,199.98 198.50,199.98" fill="none" stroke="#e6e2e6" stroke-width="0.8"/>
<path d="M43.40,309.71 C45.12,304.51 50.29,287.19 53.74,278.54 C57.19,269.89 60.63,264.13 64.08,257.80 C67.53,251.48 70.97,245.23 74.42,240.59 C77.87,235.95 81.31,232.83 84.76,229.97 C88.21,227.11 91.65,225.98 95.10,223.44 C98.55,220.90 101.99,216.85 105.44,214.73 C108.89,212.60 112.33,211.79 115.78,210.69 C119.23,209.58 122.67,208.85 126.12,208.11 C129.57,207.38 133.01,207.19 136.46,206.28 C139.91,205.37 143.35,203.36 146.80,202.64 C150.25,201.92 153.69,202.29 157.14,201.96 C160.59,201.64 164.03,201.01 167.48,200.71 C170.93,200.41 174.37,200.31 177.82,200.17 C181.27,200.03 184.71,200.02 188.16,199.88 C191.61,199.75 196.78,199.47 198.50,199.38" fill="none" stroke="#e6e2e6" stroke-width="0.8"/>
<path d="M43.40,310.82 C45.12,305.49 50.29,287.62 53.74,278.84 C57.19,270.06 60.63,264.63 64.08,258.13 C67.53,251.63 70.97,244.66 74.42,239.84 C77.87,235.02 81.31,231.97 84.76,229.22 C88.21,226.46 91.65,225.42 95.10,223.32 C98.55,221.23 101.99,218.59 105.44,216.66 C108.89,214.73 112.33,213.46 115.78,211.75 C119.23,210.04 122.67,207.47 126.12,206.40 C129.57,205.33 133.01,205.88 136.46,205.34 C139.91,204.79 143.35,203.65 146.80,203.14 C150.25,202.62 153.69,202.62 157.14,202.28 C160.59,201.93 164.03,201.29 167.48,201.04 C170.93,200.80 174.37,200.94 177.82,200.80 C181.27,200.67 184.71,200.45 188.16,200.26 C191.61,200.07 196.78,199.75 198.50,199.64" fill="none" stroke="#e6e2e6" stroke-width="0.8"/>
<path d="M43.40,309.94 C45.12,304.68 50.29,287.18 53.74,278.39 C57.19,269.59 60.63,263.57 64.08,257.15 C67.53,250.73 70.97,244.51 74.42,239.87 C77.87,235.22 81.31,232.56 84.76,229.30 C88.21,226.04 91.65,222.71 95.10,220.32 C98.55,217.94 101.99,216.40 105.44,215.00 C108.89,213.59 112.33,213.29 115.78,211.90 C119.23,210.51 122.67,207.97 126.12,206.67 C129.57,205.37 133.01,204.79 136.46,204.11 C139.91,203.42 143.35,202.95 146.80,202.56 C150.25,202.17 153.69,202.10 157.14,201.79 C160.59,201.48 164.03,200.85 167.48,200.72 C170.93,200.60 174.37,201.19 177.82,201.03 C181.27,200.87 184.71,199.99 188.16,199.76 C191.61,199.53 196.78,199.67 198.50,199.65" fill="none" stroke="#e6e2e6" stroke-width="0.8"/>
<path d="M43.40,311.33 C45.12,306.46 50.29,291.23 53.74,282.08 C57.19,272.93 60.63,263.51 64.08,256.44 C67.53,249.36 70.97,243.69 74.42,239.63 C77.87,235.57 81.31,235.19 84.76,232.08 C88.21,228.97 91.65,223.67 95.10,220.96 C98.55,218.25 101.99,217.31 105.44,215.81 C108.89,214.30 112.33,213.22 115.78,211.94 C119.23,210.66 122.67,209.36 126.12,208.13 C129.57,206.91 133.01,205.48 136.46,204.56 C139.91,203.65 143.35,202.93 146.80,202.63 C150.25,202.32 153.69,203.03 157.14,202.74 C160.59,202.45 164.03,201.12 167.48,200.88 C170.93,200.63 174.37,201.41 177.82,201.25 C181.27,201.08 184.71,200.11 188.16,199.88 C191.61,199.65 196.78,199.85 198.50,199.84" fill="none" stroke="#e6e2e6" stroke-width="0.8"/>
<path d="M43.40,308.56 C45.12,303.48 50.29,286.50 53.74,278.05 C57.19,269.60 60.63,264.29 64.08,257.88 C67.53,251.47 70.97,244.03 74.42,239.60 C77.87,235.16 81.31,233.98 84.76,231.28 C88.21,228.58 91.65,226.07 95.10,223.39 C98.55,220.72 101.99,217.07 105.44,215.22 C108.89,213.37 112.33,213.42 115.78,212.28 C119.23,211.14 122.67,209.53 126.12,208.38 C129.57,207.24 133.01,206.27 136.46,205.40 C139.91,204.53 143.35,203.65 146.80,203.17 C150.25,202.69 153.69,202.77 157.14,202.54 C160.59,202.30 164.03,202.16 167.48,201.76 C170.93,201.37 174.37,200.43 177.82,200.18 C181.27,199.94 184.71,200.44 188.16,200.30 C191.61,200.16 196.78,199.51 198.50,199.35" fill="none" stroke="#e6e2e6" stroke-width="0.8"/>
<path d="M43.40,308.49 C45.12,303.86 50.29,289.10 53.74,280.70 C57.19,272.29 60.63,264.60 64.08,258.06 C67.53,251.52 70.97,246.12 74.42,241.45 C77.87,236.79 81.31,233.37 84.76,230.07 C88.21,226.77 91.65,224.10 95.10,221.65 C98.55,219.20 101.99,217.19 105.44,215.34 C108.89,213.50 112.33,212.08 115.78,210.60 C119.23,209.12 122.67,207.37 126.12,206.46 C129.57,205.56 133.01,205.66 136.46,205.17 C139.91,204.69 143.35,204.15 146.80,203.54 C150.25,202.93 153.69,201.86 157.14,201.52 C160.59,201.17 164.03,201.56 167.48,201.46 C170.93,201.36 174.37,201.22 177.82,200.91 C181.27,200.61 184.71,199.82 188.16,199.61 C191.61,199.41 196.78,199.68 198.50,199.69" fill="none" stroke="#e6e2e6" stroke-width="0.8"/>
<path d="M43.40,310.11 C45.12,305.47 50.29,290.95 53.74,282.31 C57.19,273.67 60.63,265.10 64.08,258.25 C67.53,251.40 70.97,245.54 74.42,241.22 C77.87,236.90 81.31,235.60 84.76,232.32 C88.21,229.05 91.65,224.45 95.10,221.58 C98.55,218.72 101.99,216.68 105.44,215.12 C108.89,213.55 112.33,213.50 115.78,212.19 C119.23,210.89 122.67,208.43 126.12,207.27 C129.57,206.12 133.01,205.98 136.46,205.27 C139.91,204.56 143.35,203.54 146.80,203.03 C150.25,202.51 153.69,202.56 157.14,202.18 C160.59,201.80 164.03,201.04 167.48,200.73 C170.93,200.43 174.37,200.37 177.82,200.35 C181.27,200.33 184.71,200.65 188.16,200.60 C191.61,200.55 196.78,200.14 198.50,200.05" fill="none" stroke="#e6e2e6" stroke-width="0.8"/>
<path d="M43.40,309.51 C45.12,304.28 50.29,286.56 53.74,278.13 C57.19,269.69 60.63,265.00 64.08,258.93 C67.53,252.86 70.97,246.48 74.42,241.70 C77.87,236.92 81.31,233.44 84.76,230.25 C88.21,227.07 91.65,224.96 95.10,222.58 C98.55,220.19 101.99,217.80 105.44,215.95 C108.89,214.10 112.33,212.81 115.78,211.48 C119.23,210.14 122.67,209.02 126.12,207.94 C129.57,206.85 133.01,205.65 136.46,204.97 C139.91,204.28 143.35,204.28 146.80,203.81 C150.25,203.34 153.69,202.67 157.14,202.14 C160.59,201.61 164.03,200.78 167.48,200.63 C170.93,200.49 174.37,201.37 177.82,201.27 C181.27,201.17 184.71,200.32 188.16,200.03 C191.61,199.74 196.78,199.61 198.50,199.53" fill="none" stroke="#e6e2e6" stroke-width="0.8"/>
<path d="M43.40,311.22 C45.12,306.24 50.29,290.48 53.74,281.38 C57.19,272.28 60.63,263.12 64.08,256.64 C67.53,250.17 70.97,246.70 74.42,242.54 C77.87,238.39 81.31,235.11 84.76,231.72 C88.21,228.33 91.65,224.99 95.10,222.19 C98.55,219.39 101.99,216.60 105.44,214.91 C108.89,213.23 112.33,213.22 115.78,212.08 C119.23,210.93 122.67,209.14 126.12,208.06 C129.57,206.98 133.01,206.47 136.46,205.58 C139.91,204.68 143.35,203.30 146.80,202.71 C150.25,202.12 153.69,202.39 157.14,202.03 C160.59,201.66 164.03,200.66 167.48,200.50 C170.93,200.35 174.37,201.12 177.82,201.08 C181.27,201.05 184.71,200.52 188.16,200.27 C191.61,200.03 196.78,199.71 198.50,199.59" fill="none" stroke="#e6e2e6" stroke-width="0.8"/>
<path d="M43.40,308.54 C45.12,303.85 50.29,288.63 53.74,280.38 C57.19,272.13 60.63,265.27 64.08,259.04 C67.53,252.81 70.97,247.76 74.42,243.00 C77.87,238.24 81.31,233.81 84.76,230.48 C88.21,227.15 91.65,225.66 95.10,223.01 C98.55,220.36 101.99,216.75 105.44,214.58 C108.89,212.40 112.33,211.01 115.78,209.98 C119.23,208.96 122.67,209.13 126.12,208.42 C129.57,207.71 133.01,206.65 136.46,205.70 C139.91,204.76 143.35,203.44 146.80,202.76 C150.25,202.09 153.69,202.02 157.14,201.66 C160.59,201.29 164.03,200.71 167.48,200.58 C170.93,200.44 174.37,200.87 177.82,200.86 C181.27,200.84 184.71,200.65 188.16,200.49 C191.61,200.32 196.78,199.97 198.50,199.87" fill="none" stroke="#e6e2e6" stroke-width="0.8"/>
<path d="M43.40,308.97 C45.12,304.33 50.29,289.57 53.74,281.17 C57.19,272.76 60.63,265.09 64.08,258.53 C67.53,251.98 70.97,246.46 74.42,241.85 C77.87,237.24 81.31,234.14 84.76,230.88 C88.21,227.62 91.65,225.05 95.10,222.28 C98.55,219.50 101.99,215.95 105.44,214.22 C108.89,212.50 112.33,212.81 115.78,211.92 C119.23,211.03 122.67,210.18 126.12,208.88 C129.57,207.59 133.01,205.20 136.46,204.16 C139.91,203.11 143.35,203.13 146.80,202.61 C150.25,202.09 153.69,201.28 157.14,201.03 C160.59,200.79 164.03,201.32 167.48,201.16 C170.93,201.00 174.37,200.32 177.82,200.08 C181.27,199.83 184.71,199.69 188.16,199.66 C191.61,199.64 196.78,199.88 198.50,199.92" fill="none" stroke="#e6e2e6" stroke-width="0.8"/>
<path d="M43.40,308.78 C45.12,303.77 50.29,287.41 53.74,278.70 C57.19,269.99 60.63,262.93 64.08,256.52 C67.53,250.11 70.97,244.76 74.42,240.24 C77.87,235.71 81.31,232.61 84.76,229.38 C88.21,226.15 91.65,223.33 95.10,220.85 C98.55,218.37 101.99,216.30 105.44,214.49 C108.89,212.68 112.33,211.29 115.78,210.00 C119.23,208.70 122.67,207.67 126.12,206.74 C129.57,205.81 133.01,205.09 136.46,204.41 C139.91,203.74 143.35,203.22 146.80,202.71 C150.25,202.19 153.69,201.67 157.14,201.31 C160.59,200.95 164.03,200.72 167.48,200.54 C170.93,200.36 174.37,200.36 177.82,200.23 C181.27,200.10 184.71,199.89 188.16,199.76 C191.61,199.63 196.78,199.50 198.50,199.45" fill="none" stroke="#f0b8c8" stroke-width="2.6"/>
<path d="M43.40,308.78 C45.12,303.77 50.29,287.41 53.74,278.70 C57.19,269.99 60.63,262.93 64.08,256.52 C67.53,250.11 70.97,244.76 74.42,240.24 C77.87,235.71 81.31,232.61 84.76,229.38 C88.21,226.15 91.65,223.33 95.10,220.85 C98.55,218.37 101.99,216.30 105.44,214.49 C108.89,212.68 112.33,211.29 115.78,210.00 C119.23,208.70 122.67,207.67 126.12,206.74 C129.57,205.81 133.01,205.09 136.46,204.41 C139.91,203.74 143.35,203.22 146.80,202.71 C150.25,202.19 153.69,201.67 157.14,201.31 C160.59,200.95 164.03,200.72 167.48,200.54 C170.93,200.36 174.37,200.36 177.82,200.23 C181.27,200.10 184.71,199.89 188.16,199.76 C191.61,199.63 196.78,199.50 198.50,199.45" fill="none" stroke="#84203f" stroke-width="1.4"/>
<text x="147.70" y="279.90" font-size="7.6" text-anchor="start" font-weight="normal" fill="#2a2a2a" stroke="#2a2a2a" stroke-width="0.15">Peptide Groups</text>
<line x1="147.70" y1="289.70" x2="155.40" y2="289.70" stroke="#c2335a" stroke-width="1.3" />
<text x="158.90" y="292.30" font-size="7.4" text-anchor="start" font-weight="normal" fill="#2a2a2a" stroke="#2a2a2a" stroke-width="0.15">Validated</text>
<line x1="147.70" y1="301.50" x2="155.40" y2="301.50" stroke="#e2dde2" stroke-width="1.0" />
<text x="158.90" y="304.20" font-size="7.4" text-anchor="start" font-weight="normal" fill="#2a2a2a" stroke="#2a2a2a" stroke-width="0.15">Other</text>
<line x1="35.10" y1="393.50" x2="35.10" y2="527.90" stroke="#222" stroke-width="1.2" />
<line x1="35.10" y1="527.90" x2="217.80" y2="527.90" stroke="#222" stroke-width="1.2" />
<line x1="32.10" y1="517.30" x2="35.10" y2="517.30" stroke="#222" stroke-width="1.0" />
<text x="28.60" y="519.90" font-size="8.5" text-anchor="end" font-weight="normal" fill="#333" stroke="#333" stroke-width="0.12">25</text>
<line x1="32.10" y1="477.83" x2="35.10" y2="477.83" stroke="#222" stroke-width="1.0" />
<text x="28.60" y="480.43" font-size="8.5" text-anchor="end" font-weight="normal" fill="#333" stroke="#333" stroke-width="0.12">50</text>
<line x1="32.10" y1="438.36" x2="35.10" y2="438.36" stroke="#222" stroke-width="1.0" />
<text x="28.60" y="440.96" font-size="8.5" text-anchor="end" font-weight="normal" fill="#333" stroke="#333" stroke-width="0.12">75</text>
<line x1="32.10" y1="398.89" x2="35.10" y2="398.89" stroke="#222" stroke-width="1.0" />
<text x="28.60" y="401.49" font-size="8.5" text-anchor="end" font-weight="normal" fill="#333" stroke="#333" stroke-width="0.12">100</text>
<line x1="43.00" y1="527.90" x2="43.00" y2="530.50" stroke="#222" stroke-width="1.0" />
<text x="43.20" y="542.20" font-size="8.4" text-anchor="middle" font-weight="normal" fill="#333" stroke="#333" stroke-width="0.12">1</text>
<line x1="126.10" y1="527.90" x2="126.10" y2="530.50" stroke="#222" stroke-width="1.0" />
<text x="126.30" y="542.20" font-size="8.4" text-anchor="middle" font-weight="normal" fill="#333" stroke="#333" stroke-width="0.12">2</text>
<line x1="209.20" y1="527.90" x2="209.20" y2="530.50" stroke="#222" stroke-width="1.0" />
<text x="209.40" y="542.20" font-size="8.4" text-anchor="middle" font-weight="normal" fill="#333" stroke="#333" stroke-width="0.12">3</text>
<text x="96.40" y="555.40" font-size="9.9" fill="#222" stroke="#222" stroke-width="0.3" textLength="13.00" lengthAdjust="spacingAndGlyphs">HLA</text>
<text x="111.50" y="555.40" font-size="9.9" fill="#222" stroke="#222" stroke-width="0.3" textLength="24.60" lengthAdjust="spacingAndGlyphs">B*35:01</text>
<text x="138.50" y="555.40" font-size="9.9" fill="#222" stroke="#222" stroke-width="0.3" textLength="18.00" lengthAdjust="spacingAndGlyphs">mHAs</text>
<g transform="translate(8.90,0) rotate(-90)">
<text x="-513.00" y="0" font-size="10.0" fill="#222" stroke="#222" stroke-width="0.22" textLength="33.90" lengthAdjust="spacingAndGlyphs">Cumulative</text>
<text x="-477.30" y="0" font-size="10.0" fill="#222" stroke="#222" stroke-width="0.22" textLength="32.70" lengthAdjust="spacingAndGlyphs">population</text>
<text x="-443.20" y="0" font-size="10.0" fill="#222" stroke="#222" stroke-width="0.22" textLength="27.40" lengthAdjust="spacingAndGlyphs">coverage</text>
</g>
<polygon points="43.00,509.50 126.10,474.00 209.20,454.00 209.20,471.50 126.10,488.40 43.00,516.50" fill="#e8e8eb"/>
<polyline points="43.00,514.23 126.10,483.37 209.20,467.34" fill="none" stroke="#d4d4d9" stroke-width="0.8" stroke-linejoin="round" stroke-opacity="0.45"/>
<polyline points="43.00,512.48 126.10,481.92 209.20,462.35" fill="none" stroke="#d4d4d9" stroke-width="0.8" stroke-linejoin="round" stroke-opacity="0.45"/>
<polyline points="43.00,515.86 126.10,488.82 209.20,472.17" fill="none" stroke="#d4d4d9" stroke-width="0.8" stroke-linejoin="round" stroke-opacity="0.45"/>
<polyline points="43.00,512.68 126.10,483.30 209.20,465.15" fill="none" stroke="#d4d4d9" stroke-width="0.8" stroke-linejoin="round" stroke-opacity="0.45"/>
<polyline points="43.00,511.11 126.10,479.34 209.20,461.14" fill="none" stroke="#d4d4d9" stroke-width="0.8" stroke-linejoin="round" stroke-opacity="0.45"/>
<polyline points="43.00,509.83 126.10,474.04 209.20,455.53" fill="none" stroke="#d4d4d9" stroke-width="0.8" stroke-linejoin="round" stroke-opacity="0.45"/>
<polyline points="43.00,515.52 126.10,486.73 209.20,468.06" fill="none" stroke="#d4d4d9" stroke-width="0.8" stroke-linejoin="round" stroke-opacity="0.45"/>
<polyline points="43.00,514.68 126.10,485.39 209.20,468.84" fill="none" stroke="#d4d4d9" stroke-width="0.8" stroke-linejoin="round" stroke-opacity="0.45"/>
<polyline points="43.00,512.78 126.10,481.75 209.20,463.10" fill="none" stroke="#d4d4d9" stroke-width="0.8" stroke-linejoin="round" stroke-opacity="0.45"/>
<polyline points="43.00,511.40 126.10,479.27 209.20,459.64" fill="none" stroke="#d4d4d9" stroke-width="0.8" stroke-linejoin="round" stroke-opacity="0.45"/>
<polyline points="43.00,513.14 126.10,481.21 209.20,463.16" fill="none" stroke="#d4d4d9" stroke-width="0.8" stroke-linejoin="round" stroke-opacity="0.45"/>
<polyline points="43.00,514.25 126.10,484.80 209.20,466.17" fill="none" stroke="#d4d4d9" stroke-width="0.8" stroke-linejoin="round" stroke-opacity="0.45"/>
<polyline points="43.00,511.24 126.10,476.90 209.20,460.28" fill="none" stroke="#d4d4d9" stroke-width="0.8" stroke-linejoin="round" stroke-opacity="0.45"/>
<polyline points="43.00,512.81 126.10,483.32 209.20,464.42" fill="none" stroke="#d4d4d9" stroke-width="0.8" stroke-linejoin="round" stroke-opacity="0.45"/>
<polyline points="43.00,515.55 126.10,487.04 209.20,470.62" fill="none" stroke="#d4d4d9" stroke-width="0.8" stroke-linejoin="round" stroke-opacity="0.45"/>
<polyline points="43.00,510.19 126.10,475.59 209.20,456.29" fill="none" stroke="#d4d4d9" stroke-width="0.8" stroke-linejoin="round" stroke-opacity="0.45"/>
<polyline points="43.00,512.06 126.10,479.33 209.20,460.22" fill="none" stroke="#d4d4d9" stroke-width="0.8" stroke-linejoin="round" stroke-opacity="0.45"/>
<polyline points="43.00,512.54 126.10,482.77 209.20,462.79" fill="none" stroke="#d4d4d9" stroke-width="0.8" stroke-linejoin="round" stroke-opacity="0.45"/>
<polyline points="43.00,510.92 126.10,478.45 209.20,461.16" fill="none" stroke="#d4d4d9" stroke-width="0.8" stroke-linejoin="round" stroke-opacity="0.45"/>
<polyline points="43.00,513.14 126.10,484.10 209.20,465.06" fill="none" stroke="#d4d4d9" stroke-width="0.8" stroke-linejoin="round" stroke-opacity="0.45"/>
<polyline points="43.00,515.35 126.10,487.03 209.20,467.80" fill="none" stroke="#d4d4d9" stroke-width="0.8" stroke-linejoin="round" stroke-opacity="0.45"/>
<polyline points="43.00,515.46 126.10,486.73 209.20,468.14" fill="none" stroke="#d4d4d9" stroke-width="0.8" stroke-linejoin="round" stroke-opacity="0.45"/>
<polyline points="43.00,515.54 126.10,487.01 209.20,468.93" fill="none" stroke="#d4d4d9" stroke-width="0.8" stroke-linejoin="round" stroke-opacity="0.45"/>
<polyline points="43.00,509.89 126.10,477.43 209.20,457.81" fill="none" stroke="#d4d4d9" stroke-width="0.8" stroke-linejoin="round" stroke-opacity="0.45"/>
<polyline points="43.00,513.06 126.10,482.11 209.20,466.50" fill="none" stroke="#d4d4d9" stroke-width="0.8" stroke-linejoin="round" stroke-opacity="0.45"/>
<polyline points="43.00,515.15 126.10,486.48 209.20,468.56" fill="none" stroke="#d4d4d9" stroke-width="0.8" stroke-linejoin="round" stroke-opacity="0.45"/>
<polyline points="43.00,512.24 126.10,481.32 209.20,461.73" fill="none" stroke="#d4d4d9" stroke-width="0.8" stroke-linejoin="round" stroke-opacity="0.45"/>
<polyline points="43.00,513.39 126.10,481.98 209.20,464.62" fill="none" stroke="#d4d4d9" stroke-width="0.8" stroke-linejoin="round" stroke-opacity="0.45"/>
<polyline points="43.00,512.31 126.10,480.64 209.20,464.13" fill="none" stroke="#d4d4d9" stroke-width="0.8" stroke-linejoin="round" stroke-opacity="0.45"/>
<polyline points="43.00,509.43 126.10,474.81 209.20,455.24" fill="none" stroke="#d4d4d9" stroke-width="0.8" stroke-linejoin="round" stroke-opacity="0.45"/>
<polyline points="43.00,521.72 126.10,495.99 209.20,489.67" fill="none" stroke="#d4d4d9" stroke-width="0.8" stroke-linejoin="round" stroke-opacity="0.45"/>
<polyline points="43.00,517.30 126.10,491.25 209.20,482.09" fill="none" stroke="#d4d4d9" stroke-width="0.8" stroke-linejoin="round" stroke-opacity="0.45"/>
<polyline points="43.00,516.83 126.10,489.67 209.20,489.67" fill="none" stroke="#d4d4d9" stroke-width="0.8" stroke-linejoin="round" stroke-opacity="0.45"/>
<polyline points="43.00,516.51 126.10,487.30 209.20,477.20" fill="none" stroke="#d4d4d9" stroke-width="0.8" stroke-linejoin="round" stroke-opacity="0.45"/>
<polyline points="43.00,516.35 126.10,485.72 209.20,479.09" fill="none" stroke="#d4d4d9" stroke-width="0.8" stroke-linejoin="round" stroke-opacity="0.45"/>
<polyline points="43.00,516.67 126.10,482.09 209.20,482.09" fill="none" stroke="#d4d4d9" stroke-width="0.8" stroke-linejoin="round" stroke-opacity="0.45"/>
<polyline points="43.00,513.51 126.10,480.67 209.20,460.94" fill="none" stroke="#efb6c8" stroke-width="2.4" stroke-linejoin="round" />
<polyline points="43.00,513.51 126.10,480.67 209.20,460.94" fill="none" stroke="#96354f" stroke-width="1.2" stroke-linejoin="round" />
<text x="156.20" y="400.70" font-size="7.6" text-anchor="start" font-weight="normal" fill="#2a2a2a" stroke="#2a2a2a" stroke-width="0.15">Peptide Groups</text>
<line x1="156.20" y1="410.50" x2="163.80" y2="410.50" stroke="#c2335a" stroke-width="1.3" />
<text x="167.70" y="413.50" font-size="7.4" text-anchor="start" font-weight="normal" fill="#2a2a2a" stroke="#2a2a2a" stroke-width="0.15">Validated</text>
<line x1="156.20" y1="421.80" x2="163.80" y2="421.80" stroke="#e2dde2" stroke-width="1.0" />
<text x="167.70" y="424.90" font-size="7.4" text-anchor="start" font-weight="normal" fill="#2a2a2a" stroke="#2a2a2a" stroke-width="0.15">Other</text>
</svg>
</body></html>
